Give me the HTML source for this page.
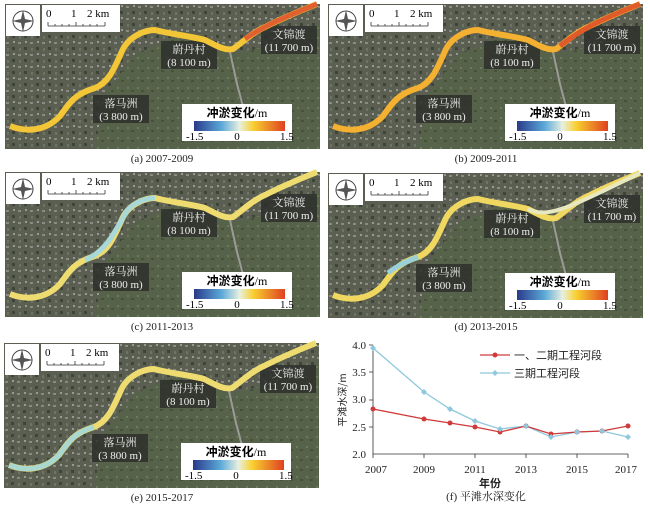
<!DOCTYPE html>
<html><head><meta charset="utf-8"><style>
body{margin:0;background:#fff;}
svg{display:block;font-family:"Liberation Serif","Noto Serif CJK SC",serif;}
</style></head><body>
<svg width="650" height="510" viewBox="0 0 650 510" xmlns="http://www.w3.org/2000/svg">
<defs>
<linearGradient id="lg" x1="0" x2="1">
<stop offset="0" stop-color="#2a3a8a"/><stop offset="0.3" stop-color="#5aa8d8"/><stop offset="0.5" stop-color="#e8f0e0"/><stop offset="0.65" stop-color="#f8d030"/><stop offset="1" stop-color="#e04020"/>
</linearGradient>
<pattern id="tex" width="12" height="12" patternUnits="userSpaceOnUse">
<rect width="12" height="12" fill="#5a5f52"/>
<rect x="1" y="2" width="3" height="2" fill="#8a8c84"/><rect x="7" y="7" width="3" height="3" fill="#3e4438"/>
<rect x="8" y="1" width="2" height="2" fill="#9a9a92"/><rect x="2" y="8" width="2" height="3" fill="#6e7462"/>
</pattern>
<pattern id="tex2" width="10" height="10" patternUnits="userSpaceOnUse">
<rect width="10" height="10" fill="#56624a"/>
<rect x="2" y="3" width="2" height="2" fill="#6c7a5a"/><rect x="6" y="6" width="3" height="2" fill="#455238"/>
</pattern>
<g id="map">
<rect width="315" height="145" fill="url(#tex)"/>
<path d="M90,145 L100,90 L130,50 L180,30 L230,50 L270,40 L315,20 L315,145 Z" fill="url(#tex2)"/>
<path d="M225,48 L232,80 L240,110" stroke="#9a9a96" stroke-width="2" fill="none"/>
<rect x="1" y="1" width="34" height="31" fill="#fff"/>
<circle cx="18" cy="17" r="10" fill="none" stroke="#444" stroke-width="1"/>
<path d="M18,6 L20,15 L29,17 L20,19 L18,28 L16,19 L7,17 L16,15 Z" fill="#555"/>
<rect x="37" y="1" width="78" height="27" fill="#fff"/>
<text x="41" y="13" font-size="11">0</text><text x="66" y="13" font-size="11">1</text><text x="82" y="13" font-size="11">2 km</text>
<path d="M43,22 H100 M43,18 V22 M50,20 V22 M57,20 V22 M64,20 V22 M71,18 V22 M78,20 V22 M85,20 V22 M92,20 V22 M100,18 V22" stroke="#333" stroke-width="0.8" fill="none"/>
<rect x="156" y="37" width="56" height="28" fill="#2e302c" opacity="0.85"/>
<text x="184" y="49" font-size="11" fill="#eee" text-anchor="middle">蔚丹村</text>
<text x="184" y="62" font-size="11" fill="#eee" text-anchor="middle">(8 100 m)</text>
<rect x="256" y="22" width="56" height="28" fill="#2e302c" opacity="0.85"/>
<text x="284" y="34" font-size="11" fill="#eee" text-anchor="middle">文锦渡</text>
<text x="284" y="47" font-size="11" fill="#eee" text-anchor="middle">(11 700 m)</text>
<rect x="88" y="91" width="56" height="28" fill="#2e302c" opacity="0.85"/>
<text x="116" y="103" font-size="11" fill="#eee" text-anchor="middle">落马洲</text>
<text x="116" y="116" font-size="11" fill="#eee" text-anchor="middle">(3 800 m)</text>
<rect x="177" y="100" width="110" height="37" fill="#fff"/>
<text x="232" y="113" font-size="12" text-anchor="middle" font-weight="bold" font-family="'Noto Sans CJK SC',sans-serif">冲淤变化<tspan font-weight="normal" font-family="'Liberation Serif',serif">/m</tspan></text>
<rect x="189" y="117" width="91" height="10" fill="url(#lg)"/>
<text x="181" y="136" font-size="11">-1.5</text><text x="232" y="136" font-size="11" text-anchor="middle">0</text><text x="275" y="136" font-size="11">1.5</text>
</g>
<path id="rv" d="M5,122 C20,128 40,128 55,112 C65,98 70,90 90,84 C105,78 110,62 118,45 C125,32 140,26 150,26 C165,30 185,32 200,36 C212,42 220,47 228,45 C238,38 248,28 262,22 C278,14 292,8 312,0"/>
</defs>
<!-- panels -->
<g transform="translate(5,4)"><use href="#map"/>
<use href="#rv" fill="none" stroke="#f3c638" stroke-width="6"/>
<path d="M240,35 C250,28 262,20 312,0" fill="none" stroke="#e06030" stroke-width="5"/></g>
<g transform="translate(328,4)"><use href="#map"/>
<use href="#rv" fill="none" stroke="#f4b030" stroke-width="6"/>
<path d="M232,42 C250,28 262,20 312,0" fill="none" stroke="#e05a2a" stroke-width="5"/></g>
<g transform="translate(5,172)"><use href="#map"/>
<use href="#rv" fill="none" stroke="#eedc70" stroke-width="6"/>
<path d="M80,88 C100,80 110,60 120,42 C125,32 140,26 150,26" fill="none" stroke="#a8d8d8" stroke-width="5"/></g>
<g transform="translate(328,173)"><use href="#map"/>
<use href="#rv" fill="none" stroke="#f0d860" stroke-width="6"/>
<path d="M60,100 C70,92 80,88 90,84" fill="none" stroke="#9ad0d8" stroke-width="5"/>
<path d="M200,36 C220,46 240,35 312,0" fill="none" stroke="#e8e8c0" stroke-width="4"/></g>
<g transform="translate(4,343)"><use href="#map"/>
<use href="#rv" fill="none" stroke="#eedc70" stroke-width="6"/>
<path d="M5,122 C20,128 40,128 55,112 C65,98 70,90 90,84" fill="none" stroke="#a8d8d0" stroke-width="5"/></g>
<g font-size="11" text-anchor="middle" fill="#222">
<text x="162" y="162">(a) 2007-2009</text>
<text x="486" y="162">(b) 2009-2011</text>
<text x="162" y="330">(c) 2011-2013</text>
<text x="486" y="330">(d) 2013-2015</text>
<text x="162" y="501">(e) 2015-2017</text>
<text x="486" y="500">(f) 平滩水深变化</text>
</g>
<!-- chart -->
<g font-size="11" fill="#222">
<path d="M373,345 V454 H628" stroke="#333" fill="none" stroke-width="0.8"/>
<path d="M369,345 H373 M369,372 H373 M369,400 H373 M369,427 H373 M424,454 V458 M475,454 V458 M526,454 V458 M577,454 V458 M628,454 V458 M373,454 V458" stroke="#333" stroke-width="0.8"/>
<text x="366" y="349" text-anchor="end">4.0</text><text x="366" y="376" text-anchor="end">3.5</text>
<text x="366" y="403" text-anchor="end">3.0</text><text x="366" y="431" text-anchor="end">2.5</text>
<text x="366" y="458" text-anchor="end">2.0</text>
<g text-anchor="middle"><text x="376" y="473">2007</text><text x="424" y="473">2009</text><text x="475" y="473">2011</text><text x="526" y="473">2013</text><text x="577" y="473">2015</text><text x="626" y="473">2017</text></g>
<text x="490" y="487" text-anchor="middle" font-weight="bold" font-family="'Noto Sans CJK SC',sans-serif">年份</text>
<text transform="translate(346,400) rotate(-90)" text-anchor="middle" font-size="10" font-family="'Noto Sans CJK SC',sans-serif">平滩水深/m</text>
<polyline fill="none" stroke="#8ec8dc" stroke-width="1.3" points="373,348 424,392 450,409 475,421 500,429 526,426 551,437 577,432 602,431 628,437"/>
<polyline fill="none" stroke="#d03a3a" stroke-width="1.3" points="373,409 424,419 450,423 475,427 500,432 526,426 551,434 577,432 602,431 628,426"/>
<g fill="#d03a3a"><circle cx="373" cy="409" r="2.5"/><circle cx="424" cy="419" r="2.5"/><circle cx="450" cy="423" r="2.5"/><circle cx="475" cy="427" r="2.5"/><circle cx="500" cy="432" r="2.5"/><circle cx="526" cy="426" r="2.5"/><circle cx="551" cy="434" r="2.5"/><circle cx="577" cy="432" r="2.5"/><circle cx="602" cy="431" r="2.5"/><circle cx="628" cy="426" r="2.5"/></g>
<g fill="#8ec8dc"><path d="M373,345 l3,3 -3,3 -3,-3z M424,389 l3,3 -3,3 -3,-3z M450,406 l3,3 -3,3 -3,-3z M475,418 l3,3 -3,3 -3,-3z M500,426 l3,3 -3,3 -3,-3z M526,423 l3,3 -3,3 -3,-3z M551,434 l3,3 -3,3 -3,-3z M577,429 l3,3 -3,3 -3,-3z M602,428 l3,3 -3,3 -3,-3z M628,434 l3,3 -3,3 -3,-3z"/></g>
<line x1="480" y1="355" x2="510" y2="355" stroke="#d03a3a" stroke-width="1.3"/><circle cx="495" cy="355" r="2.5" fill="#d03a3a"/>
<line x1="480" y1="373" x2="510" y2="373" stroke="#8ec8dc" stroke-width="1.3"/><path d="M495,370 l3,3 -3,3 -3,-3z" fill="#8ec8dc"/>
<text x="514" y="359" font-size="11" font-family="'Noto Sans CJK SC',sans-serif">一、二期工程河段</text>
<text x="514" y="377" font-size="11" font-family="'Noto Sans CJK SC',sans-serif">三期工程河段</text>
</g>
</svg>
</body></html>
